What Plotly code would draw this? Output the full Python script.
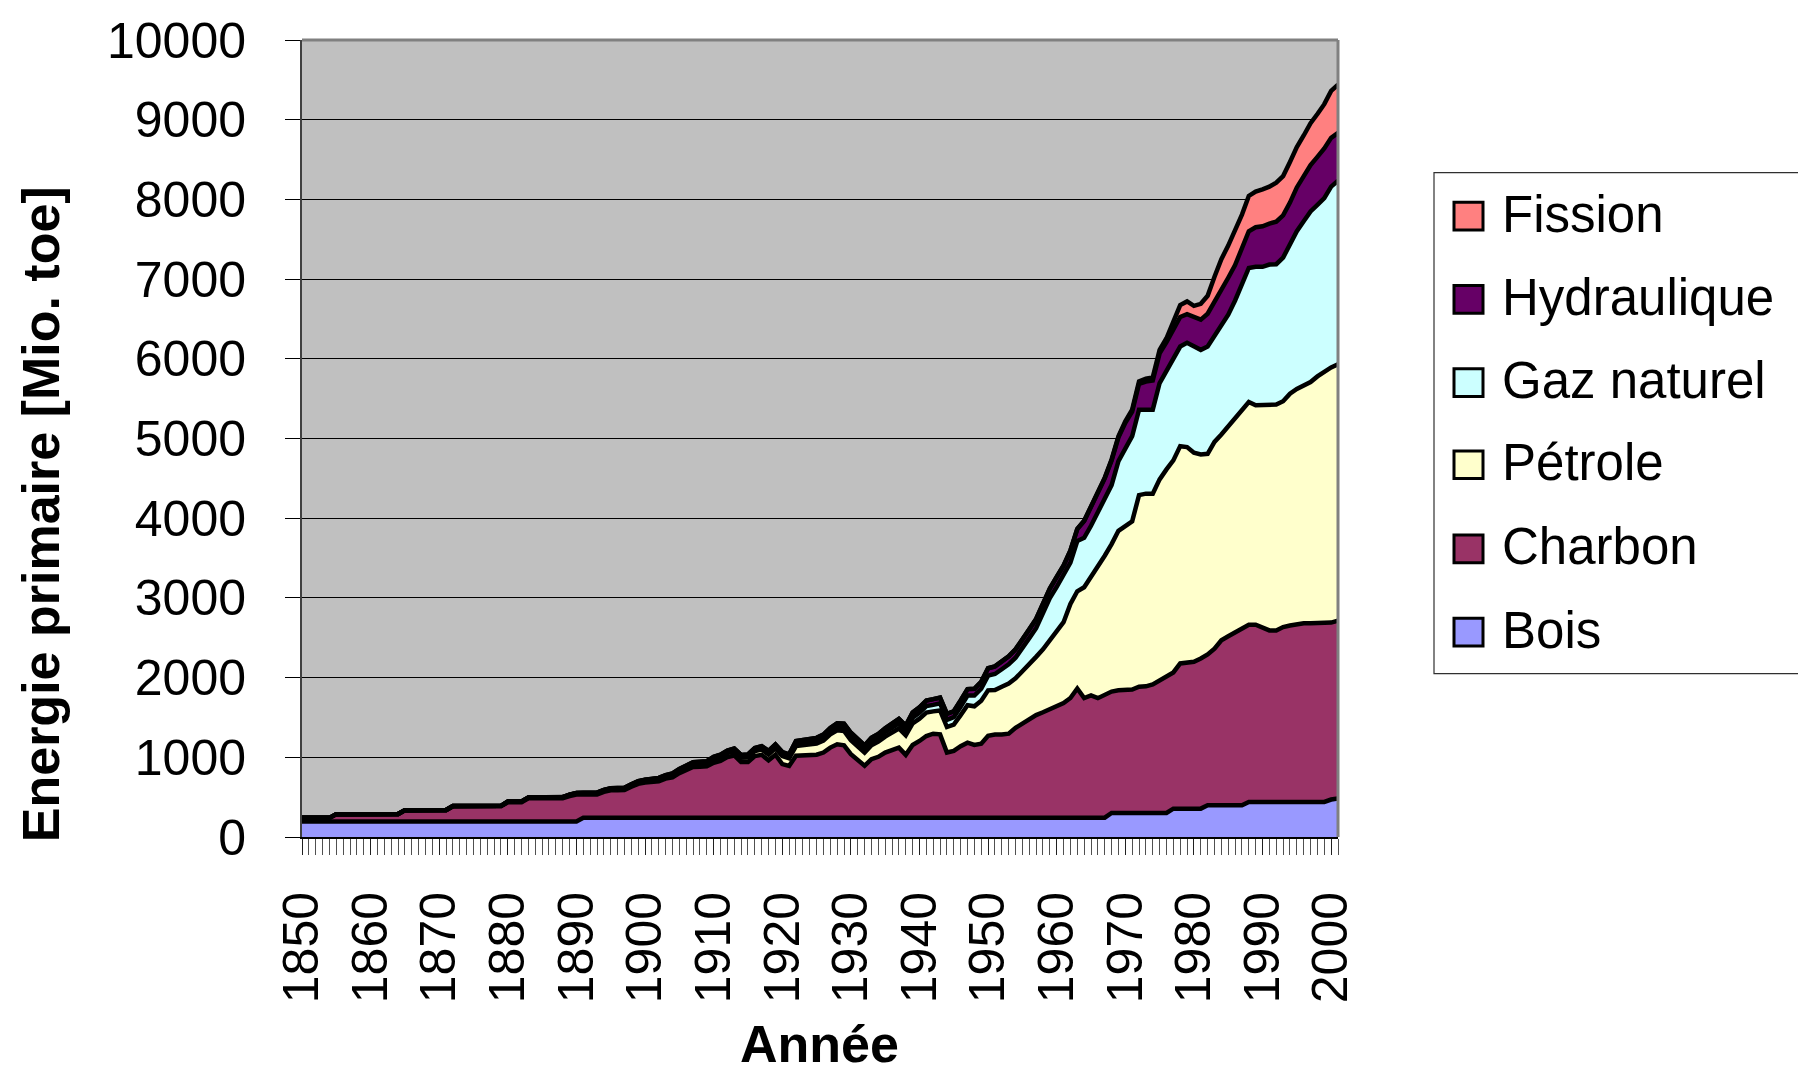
import plotly.graph_objects as go

# Primary energy consumption by source, Mio. toe, 1850-2001
years = list(range(1850, 2002))

bois = (
    [195] * 10 +                      # 1850s
    [195] * 10 +                      # 1860s
    [195] * 10 +                      # 1870s
    [195] * 10 +                      # 1880s
    [195] + [242] * 9 +               # 1890s
    [242] * 10 +                      # 1900s
    [242] * 10 +                      # 1910s
    [242] * 10 +                      # 1920s
    [242] * 10 +                      # 1930s
    [242] * 10 +                      # 1940s
    [242] * 10 +                      # 1950s
    [242] * 8 + [302, 302] +          # 1960s
    [302] * 7 + [356, 356, 356] +     # 1970s
    [356, 356] + [398] * 6 + [440, 440] +  # 1980s
    [440] * 10 +                      # 1990s
    [470, 485]                        # 2000-2001
)

charbon = [
    45, 45, 45, 45, 45, 92, 92, 92, 92, 92,
    92, 92, 92, 92, 92, 140, 140, 140, 140, 140,
    140, 140, 190, 190, 190, 190, 190, 190, 190, 190,
    240, 240, 240, 290, 290, 290, 290, 290, 290, 318,
    338, 292, 292, 292, 325, 345, 346, 348, 388, 425,
    441, 450, 458, 490, 507, 560, 594, 636, 640, 644,
    690, 714, 760, 781, 698, 698, 773, 789, 720, 790,
    673, 650, 778, 785, 785, 790, 818, 880, 921, 908,
    798, 718, 652, 735, 764, 818, 851, 880, 789, 913,
    963, 1025, 1054, 1046, 818, 839, 898, 942, 913, 928,
    1028, 1043, 1043, 1054, 1128, 1183, 1228, 1288, 1323, 1366,
    1406, 1439, 1502, 1621, 1502, 1535, 1500, 1548, 1523, 1538,
    1538, 1548, 1583, 1588, 1613, 1668, 1718, 1709, 1822, 1830,
    1843, 1884, 1892, 1966, 2070, 2120, 2165, 2215, 2223, 2223,
    2194, 2152, 2152, 2194, 2214, 2235, 2243, 2243, 2243, 2243,
    2220, 2231,
]

petrole = [
    0, 0, 0, 0, 0, 0, 0, 0, 0, 0,
    1, 1, 1, 1, 1, 2, 2, 2, 2, 2,
    3, 3, 3, 4, 4, 4, 5, 5, 6, 6,
    8, 8, 9, 9, 10, 10, 11, 12, 12, 13,
    14, 14, 15, 15, 16, 17, 18, 19, 20, 21,
    24, 25, 26, 28, 30, 32, 34, 36, 38, 40,
    44, 46, 50, 52, 54, 58, 62, 66, 72, 80,
    100, 95, 120, 125, 130, 140, 150, 165, 175, 180,
    175, 170, 165, 175, 190, 200, 215, 240, 245, 270,
    280, 295, 280, 300, 320, 330, 390, 470, 485, 540,
    570, 560, 600, 630, 620, 650, 705, 730, 790, 860,
    944, 1014, 1180, 1220, 1390, 1482, 1662, 1739, 1850, 2002,
    2060, 2110, 2405, 2418, 2393, 2517, 2592, 2660, 2726, 2706,
    2622, 2560, 2518, 2594, 2582, 2636, 2683, 2749, 2795, 2754,
    2783, 2825, 2833, 2833, 2908, 2946, 2980, 3025, 3096, 3159,
    3202, 3214,
]

gaz = [
    0, 0, 0, 0, 0, 0, 0, 0, 0, 0,
    0, 0, 0, 0, 0, 0, 0, 0, 0, 0,
    0, 0, 0, 0, 0, 0, 0, 0, 0, 0,
    2, 2, 2, 3, 3, 3, 3, 4, 4, 4,
    4, 5, 5, 5, 5, 6, 6, 6, 7, 7,
    7, 7, 8, 8, 8, 9, 9, 10, 10, 11,
    12, 12, 13, 14, 14, 15, 16, 17, 18, 19,
    20, 20, 30, 30, 32, 34, 36, 40, 45, 48,
    48, 45, 45, 46, 50, 55, 60, 65, 65, 72,
    75, 80, 82, 88, 90, 92, 105, 120, 135, 150,
    185, 200, 220, 240, 260, 290, 320, 360, 440, 530,
    545, 585, 520, 630, 620, 646, 667, 700, 740, 875,
    962, 1069, 1072, 1054, 1054, 1209, 1230, 1283, 1250, 1308,
    1333, 1312, 1346, 1332, 1350, 1400, 1486, 1578, 1682, 1737,
    1737, 1766, 1762, 1803, 1874, 1980, 2062, 2142, 2153, 2173,
    2268, 2304,
]

hydraulique = [
    0, 0, 0, 0, 0, 0, 0, 0, 0, 0,
    0, 0, 0, 0, 0, 0, 0, 0, 0, 0,
    0, 0, 0, 0, 0, 0, 0, 0, 0, 0,
    0, 0, 0, 0, 0, 0, 0, 0, 0, 0,
    1, 1, 2, 2, 2, 3, 3, 4, 4, 5,
    6, 7, 8, 9, 10, 11, 12, 13, 14, 15,
    17, 18, 19, 20, 21, 23, 24, 26, 28, 29,
    30, 30, 35, 36, 37, 38, 40, 42, 43, 45,
    45, 45, 45, 47, 48, 50, 52, 55, 58, 65,
    68, 70, 72, 74, 74, 75, 78, 82, 85, 88,
    92, 95, 98, 100, 105, 108, 110, 115, 120, 120,
    125, 125, 150, 150, 210, 229, 229, 270, 310, 297,
    335, 308, 325, 353, 365, 372, 366, 352, 370, 360,
    371, 380, 412, 421, 470, 463, 443, 450, 461, 497,
    509, 513, 534, 530, 524, 549, 565, 580, 601, 625,
    613, 600,
]

fission = (
    [0] * 106 +                       # 1850-1955
    [0, 0, 0, 1] +                    # 1956-1959
    [1, 2, 3, 3, 4, 5, 8, 10, 12, 15] +
    [20, 25, 30, 35, 40, 45, 50, 90, 150, 160] +
    [140, 198, 224, 319, 380, 403, 427, 420, 443, 447] +
    [464, 464, 489, 493, 510, 507, 512, 526, 538, 555] +
    [588, 606]
)

series_names = ["Bois", "Charbon", "Pétrole", "Gaz naturel", "Hydraulique", "Fission"]
series_values = [bois, charbon, petrole, gaz, hydraulique, fission]
series_colors = ["#9999FF", "#993366", "#FFFFCC", "#CCFFFF", "#660066", "#FF8080"]

x_tick_years = list(range(1850, 2001, 10))
y_tick_values = list(range(0, 10001, 1000))

FONT = "Arial, 'Liberation Sans', sans-serif"

# plot area in page pixels
W, H = 1798, 1077
PL, PR, PT, PB = 302, 1338, 32, 837


def px_x(px):
    return (px - PL) / (PR - PL)


def px_y(py):
    return (PB - py) / (PB - PT)


fig = go.Figure()
for name, vals, color in zip(series_names, series_values, series_colors):
    fig.add_trace(go.Scatter(
        x=years, y=vals, name=name, mode="lines",
        stackgroup="energie",
        line=dict(color="black", width=4.5),
        fillcolor=color,
        showlegend=False,
        hoverinfo="x+y+name",
    ))

shapes = [
    # grey frame on top and right of the plot area
    dict(type="line", xref="paper", yref="paper", x0=0, x1=1, y0=1, y1=1,
         line=dict(color="#808080", width=3), layer="above"),
    dict(type="line", xref="paper", yref="paper", x0=1, x1=1, y0=0, y1=1,
         line=dict(color="#808080", width=3), layer="above"),
    # legend box
    dict(type="rect", xref="paper", yref="paper",
         x0=px_x(1434), x1=px_x(1812), y0=px_y(672), y1=px_y(166),
         line=dict(color="#303030", width=1.2), fillcolor="white", layer="above"),
]

annotations = []
legend_rows = [210, 294, 378, 461, 546, 630]
for row_y, name, color in zip(legend_rows, series_names[::-1], series_colors[::-1]):
    shapes.append(dict(
        type="rect", xref="paper", yref="paper",
        x0=px_x(1454), x1=px_x(1483), y0=px_y(row_y + 14), y1=px_y(row_y - 14),
        line=dict(color="black", width=3), fillcolor=color, layer="above",
    ))
    annotations.append(dict(
        xref="paper", yref="paper", x=px_x(1500), y=px_y(row_y - 2),
        text=name, showarrow=False, xanchor="left", yanchor="middle",
        font=dict(family=FONT, size=51, color="black"),
    ))

annotations.append(dict(
    xref="paper", yref="paper", x=px_x(41), y=px_y(511),
    text="<b>Energie primaire [Mio. toe]</b>", textangle=-90, showarrow=False,
    xanchor="center", yanchor="middle",
    font=dict(family=FONT, size=52, color="black"),
))
annotations.append(dict(
    xref="paper", yref="paper", x=px_x(819), y=px_y(1046),
    text="<b>Année</b>", showarrow=False, xanchor="center", yanchor="middle",
    font=dict(family=FONT, size=52, color="black"),
))

fig.update_layout(
    width=W, height=H,
    margin=dict(l=PL, r=W - PR, t=PT, b=H - PB, pad=0),
    paper_bgcolor="white",
    plot_bgcolor="#C0C0C0",
    font=dict(family=FONT, color="black"),
    showlegend=False,
    shapes=shapes,
    annotations=annotations,
)

fig.update_xaxes(
    range=[1850, 2001],
    tickmode="array", tickvals=x_tick_years, ticktext=[str(v) for v in x_tick_years],
    tickangle=-90, tickfont=dict(family=FONT, size=50, color="black"),
    ticks="outside", ticklen=16, tickwidth=1, tickcolor="#202020",
    minor=dict(tickmode="linear", tick0=1850, dtick=1, ticks="outside",
               ticklen=16, tickwidth=1, tickcolor="#505050", showgrid=False),
    ticklabelstandoff=17,
    showgrid=False, zeroline=False,
    showline=True, linecolor="black", linewidth=2,
)

fig.update_yaxes(
    range=[0, 10000],
    tickmode="array", tickvals=y_tick_values, ticktext=[str(v) for v in y_tick_values],
    tickfont=dict(family=FONT, size=50, color="black"),
    ticks="outside", ticklen=15, tickwidth=1, tickcolor="black",
    ticklabelstandoff=29,
    showgrid=True, gridcolor="black", gridwidth=1,
    zeroline=False,
    showline=True, linecolor="#404040", linewidth=2,
)

fig.write_html("out.html")
